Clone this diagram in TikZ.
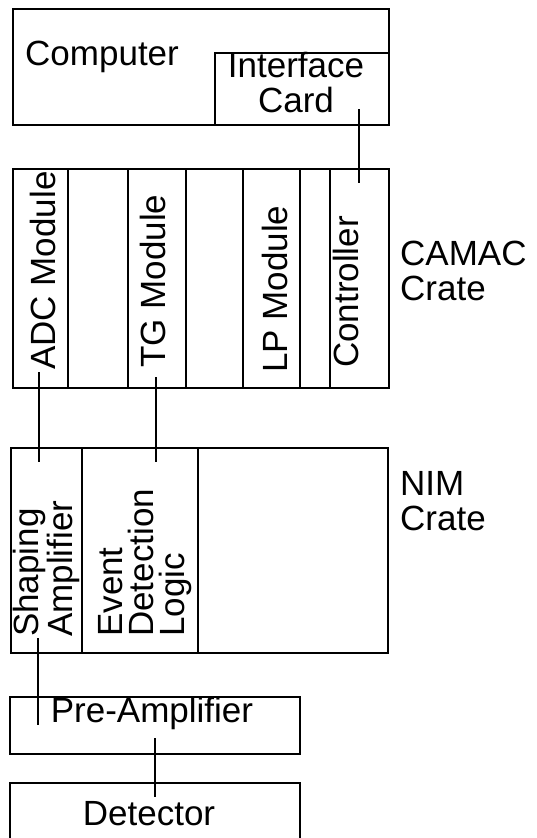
\documentclass[tikz,border=0pt]{standalone}
\usepackage{fontspec}
\setmainfont{Liberation Sans}
\begin{document}
\begin{tikzpicture}[x=1pt, y=-1pt,
  every node/.style={font=\fontsize{35}{35}\selectfont, inner sep=0pt},
  box/.style={draw, line width=2.1pt, anchor=north west},
  vlabel/.style={rotate=90, anchor=base west},
  vblock/.style={rotate=90, anchor=north west, align=left, font=\fontsize{35}{31}\selectfont},
  wire/.style={line width=1.6pt}]

  % page frame, as in the reference
  \useasboundingbox (0,0) rectangle (536,838);
  \clip (0,0) rectangle (536,838);

  % 1. computer with interface card
  \node[box, minimum width=376pt, minimum height=116pt] (computer) at (12,8) {};
  \node[box, minimum width=174pt, minimum height=72pt] (card) at (214,52) {};
  \node[anchor=base west] (comptext) at (25,65) {Computer};
  \node[anchor=north, align=center] (cardtext) at (296,51.5) {Interface\\Card};

  % 2. CAMAC crate and its slots
  \node[box, minimum width=376pt, minimum height=219pt] (camac) at (12,168) {};
  \foreach \sx in {68,128,186,243,300,330}
    \draw[line width=2.1pt] (\sx,168) -- (\sx,387);
  \node[vlabel] (adc) at (55,370) {ADC Module};
  \node[vlabel] (tg) at (165,368) {TG Module};
  \node[vlabel] (lp) at (287,373) {LP Module};
  \node[vlabel] (ctrl) at (358,368) {Controller};
  \node[anchor=north west, align=left] (camactext) at (400,241) {CAMAC\\Crate};

  % 3. NIM crate
  \node[box, minimum width=377pt, minimum height=205pt] (nim) at (10,447) {};
  \foreach \sx in {82,198}
    \draw[line width=2.1pt] (\sx,447) -- (\sx,652);
  \node[vblock] (shaper) at (13,637) {Shaping\\Amplifier};
  \node[vblock] (event) at (98,637) {Event\\Detection\\Logic};
  \node[anchor=north west, align=left] (nimtext) at (400,471) {NIM\\Crate};

  % 4. pre-amplifier and detector
  \node[box, minimum width=290pt, minimum height=57pt] (preamp) at (9,696) {};
  \node[anchor=base] (preamptext) at (152,722) {Pre-Amplifier};
  \node[box, minimum width=290pt, minimum height=80pt] (detector) at (9,782) {};
  \node[anchor=base] (dettext) at (149,825) {Detector};

  % 5. cable ends
  \coordinate (cardpin) at (359,109);
  \coordinate (ctrlpin) at (359,183);
  \coordinate (adcpin) at (39,372);
  \coordinate (shapein) at (39,462);
  \coordinate (tgpin) at (156,377);
  \coordinate (eventpin) at (156,462);
  \coordinate (shapeout) at (38,638);
  \coordinate (preout) at (38,725);
  \coordinate (prein) at (155,738);
  \coordinate (detpin) at (155,797);

  % 6. cables
  \draw[wire] (cardpin) -- (ctrlpin);
  \draw[wire] (adcpin) -- (shapein);
  \draw[wire] (tgpin) -- (eventpin);
  \draw[wire] (shapeout) -- (preout);
  \draw[wire] (prein) -- (detpin);

\end{tikzpicture}
\end{document}
